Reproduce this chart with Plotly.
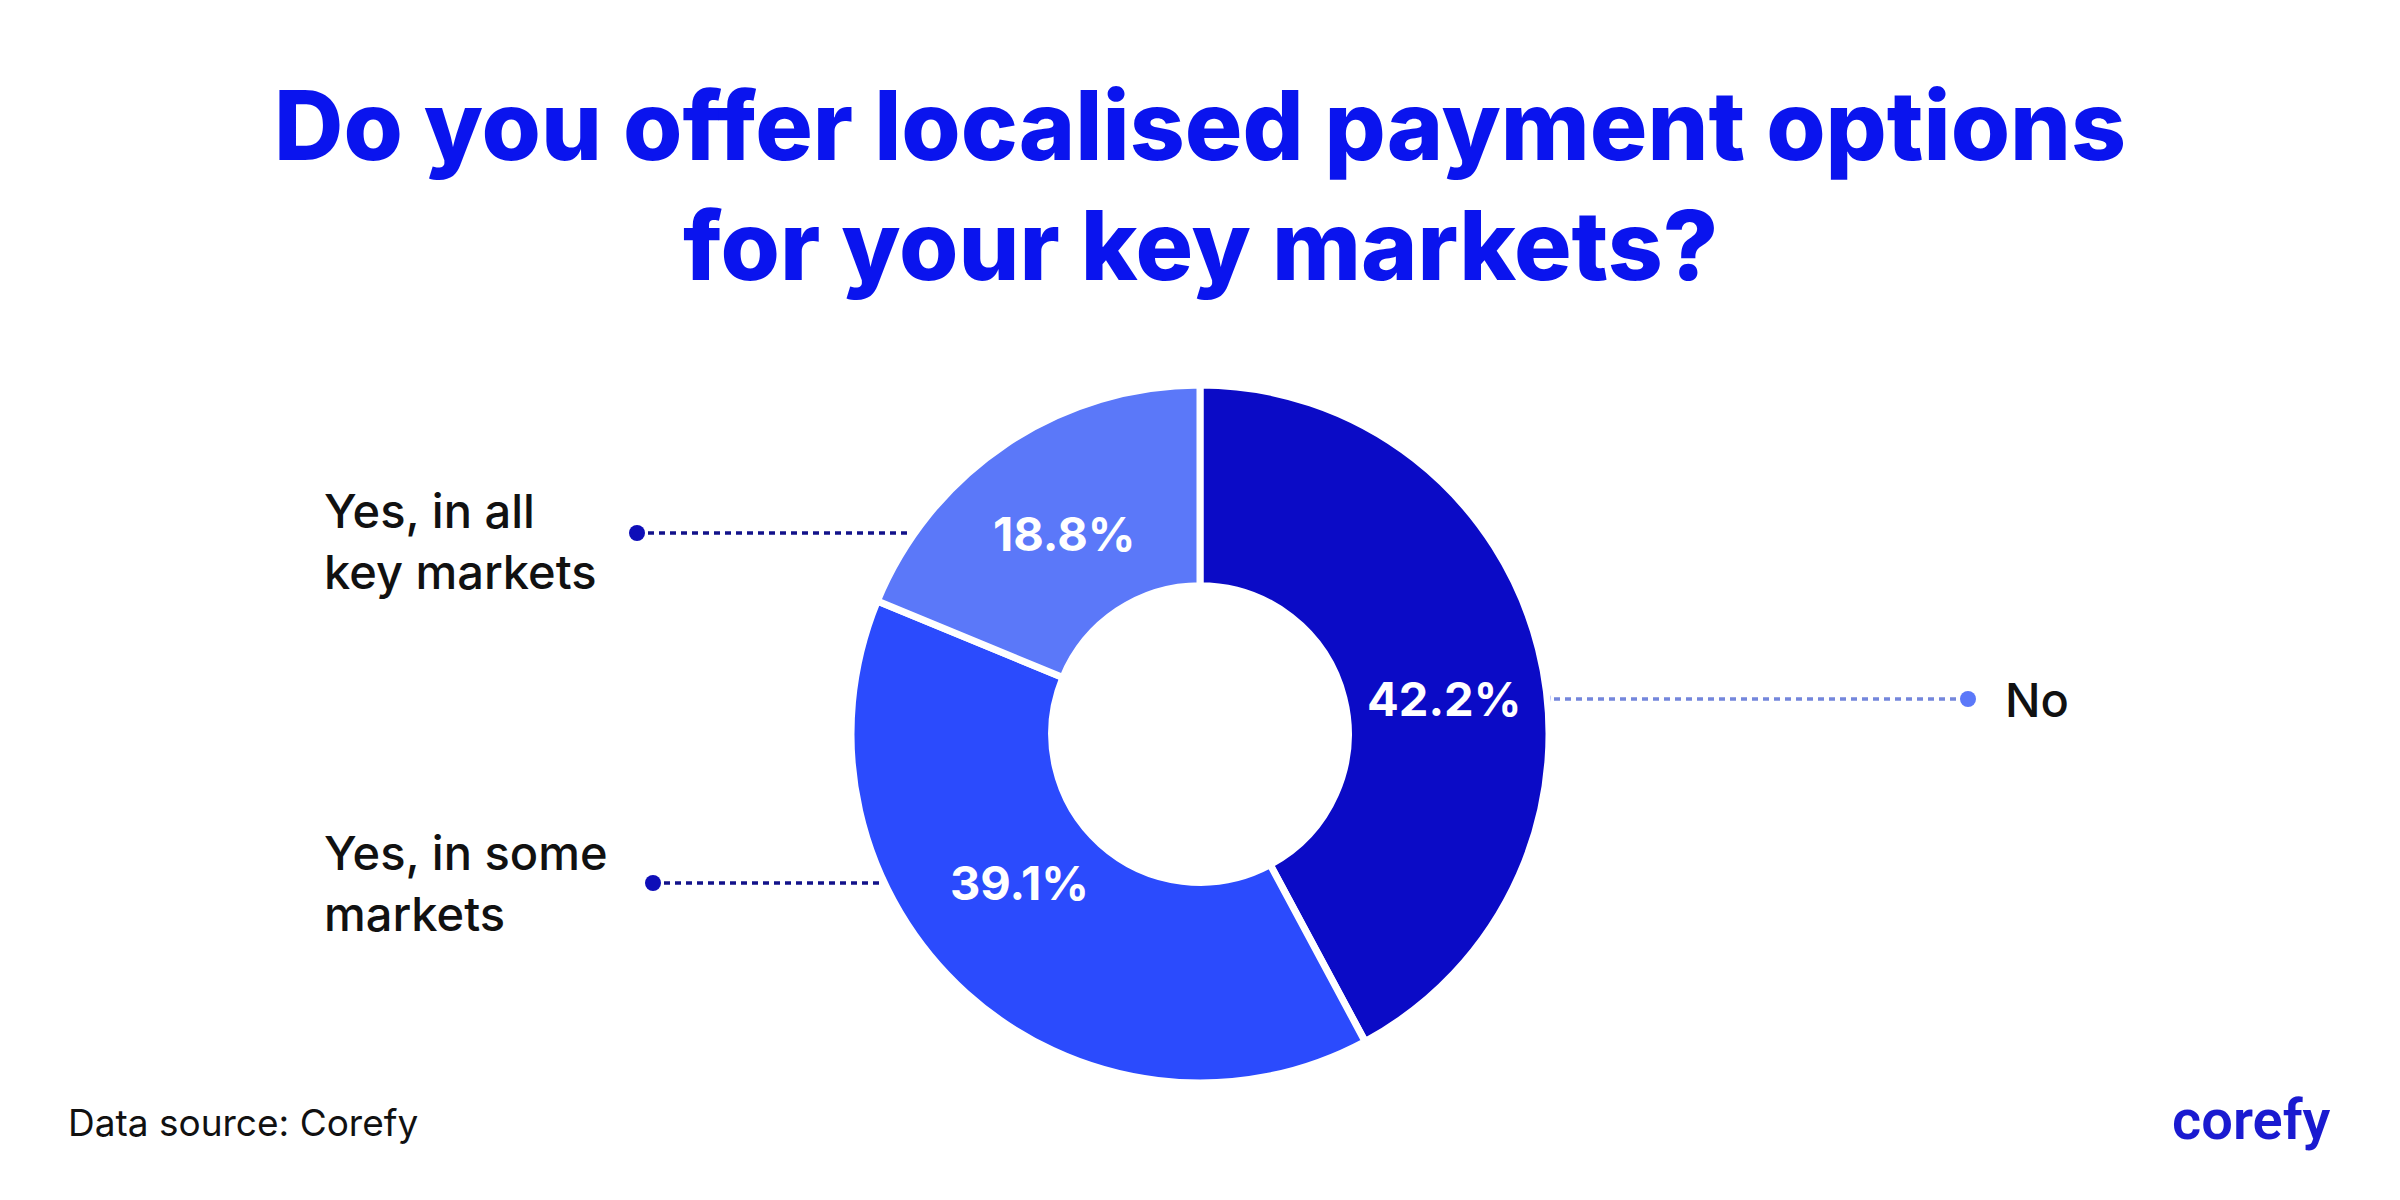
import plotly.graph_objects as go

# survey answers, clockwise from 12 o'clock
answers = ["No", "Yes, in some markets", "Yes, in all key markets"]
shares = [42.2, 39.1, 18.8]
side_labels = ["No", "Yes, in some<br>markets", "Yes, in all<br>key markets"]
colors = ["#0b0bc6", "#2b4bfd", "#5b78f9"]
title_lines = ["Do you offer localised payment options", "for your key markets?"]

W, H = 2400, 1200
OFF = 8  # page body margin pushes the figure by this many px

cx, cy, r = 1200 - OFF, 734 - OFF, 349

fig = go.Figure()

fig.add_trace(go.Pie(
    labels=answers,
    values=shares,
    hole=0.425,
    sort=False,
    direction="clockwise",
    rotation=0,
    marker=dict(colors=colors, line=dict(color="white", width=7)),
    textinfo="none",
    hoverinfo="label+value",
    showlegend=False,
    domain=dict(x=[(cx - r) / W, (cx + r) / W],
                y=[(H - cy - r) / H, (H - cy + r) / H]),
))

# screen-pixel overlay for leader lines and callouts
pct_pos = [(1444, 698), (1019, 882), (1064, 533)]
line_ends = [(1543, 1968, 699), (653, 923, 883), (637, 963, 533)]
label_pos = [(2003, 699), (322, 883), (322, 541)]
dot_colors = ["#5b78f9", "#0e0eb8", "#0e0eb8"]
line_colors = ["#7486dc", "#12128a", "#12128a"]

for i in range(len(answers)):
    x0, x1, y = line_ends[i]
    fig.add_trace(go.Scatter(
        x=[x0, x1], y=[y, y], mode="lines",
        line=dict(color=line_colors[i], width=3.5, dash="6px,5px"),
        hoverinfo="skip", showlegend=False,
    ))
    fig.add_trace(go.Scatter(
        x=[x0, x1], y=[y, y], mode="markers",
        marker=dict(color=dot_colors[i], size=16),
        hoverinfo="skip", showlegend=False,
    ))
    fig.add_annotation(
        x=pct_pos[i][0], y=pct_pos[i][1], text=f"{shares[i]}%",
        showarrow=False, xanchor="center", yanchor="middle",
        font=dict(family="Inter", size=47, color="white", weight=700),
    )
    fig.add_annotation(
        x=label_pos[i][0], y=label_pos[i][1], text=side_labels[i],
        showarrow=False, xanchor="left", yanchor="middle", align="left",
        font=dict(family="Inter", size=47, color="#111111", weight=500),
    )

for j, line in enumerate(title_lines):
    fig.add_annotation(
        x=1200, y=125 + j * 120, text=line,
        showarrow=False, xanchor="center", yanchor="middle",
        height=118, valign="middle",
        font=dict(family="Inter", size=96, color="#0a14ee", weight=800),
    )

fig.add_annotation(
    x=66, y=1122, text="Data source: Corefy",
    showarrow=False, xanchor="left", yanchor="middle",
    font=dict(family="Inter", size=37, color="#111111"),
)
fig.add_annotation(
    x=2333, y=1120, text="corefy",
    showarrow=False, xanchor="right", yanchor="middle",
    font=dict(family="Roboto", size=56, color="#1a1ad0", weight=600),
)

fig.update_layout(
    width=W, height=H,
    margin=dict(l=0, r=0, t=0, b=0),
    paper_bgcolor="white", plot_bgcolor="rgba(0,0,0,0)",
    xaxis=dict(range=[OFF, W + OFF], visible=False, fixedrange=True),
    yaxis=dict(range=[H + OFF, OFF], visible=False, fixedrange=True),
)

fig.write_html("out.html")
